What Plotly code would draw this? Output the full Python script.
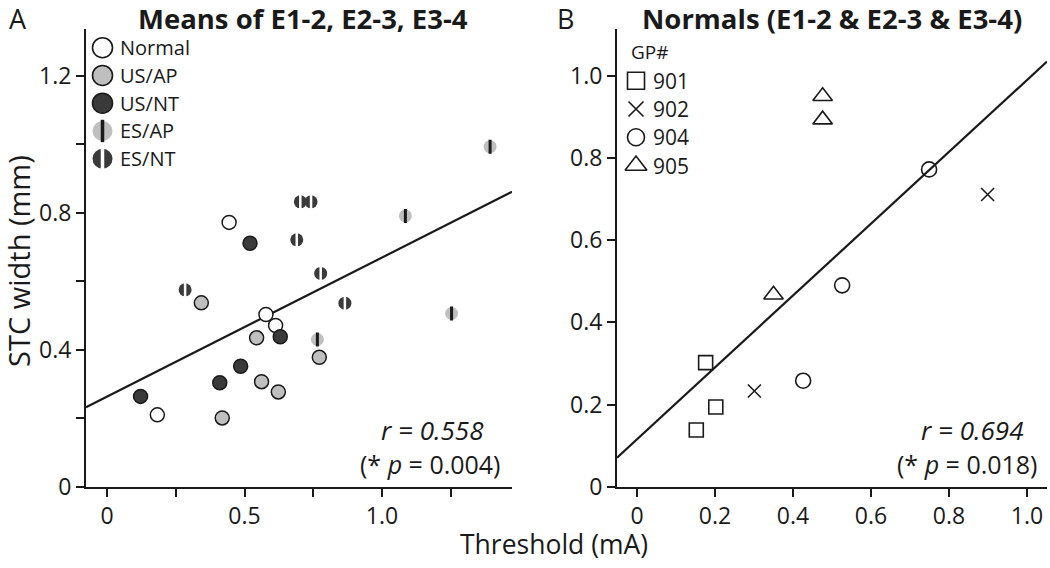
import numpy as np
import plotly.graph_objects as go

# ---------------- data: panel A (means) ----------------
normal_x = [0.444, 0.578, 0.613, 0.183]
normal_y = [0.772, 0.503, 0.471, 0.210]
usap_x = [0.343, 0.544, 0.772, 0.562, 0.623, 0.419]
usap_y = [0.537, 0.435, 0.378, 0.307, 0.277, 0.201]
usnt_x = [0.520, 0.630, 0.486, 0.410, 0.122]
usnt_y = [0.711, 0.438, 0.352, 0.304, 0.264]
esap_x = [1.085, 0.765, 1.253, 1.393]
esap_y = [0.791, 0.430, 0.506, 0.993]
esnt_x = [0.703, 0.742, 0.690, 0.777, 0.865, 0.284]
esnt_y = [0.832, 0.832, 0.721, 0.623, 0.536, 0.575]

# ---------------- data: panel B (normals) ----------------
gp901_x = [0.176, 0.202, 0.152]
gp901_y = [0.302, 0.194, 0.138]
gp902_x = [0.899, 0.301]
gp902_y = [0.711, 0.233]
gp904_x = [0.749, 0.526, 0.426]
gp904_y = [0.772, 0.490, 0.258]
gp905_x = [0.476, 0.476, 0.350]
gp905_y = [0.950, 0.893, 0.467]

legend_a = ["Normal", "US/AP", "US/NT", "ES/AP", "ES/NT"]
legend_b = ["901", "902", "904", "905"]

FONT = "Open Sans"
INK = "#1a1a1a"
LIGHT = "#bfbfbf"
DARK = "#3a3a3a"

W, H = 1050, 568

xa_range = [-0.0764, 1.4727]
ya_range = [0, 1.336]
xb_range = [-0.0513, 1.0513]
yb_range = [0, 1.113]

fig = go.Figure()


def circ(x, y, fill, xa, ya, size=14, lw=1.5, lc=INK):
    fig.add_trace(go.Scatter(x=x, y=y, mode="markers", xaxis=xa, yaxis=ya,
                             marker=dict(symbol="circle", size=size, color=fill,
                                         line=dict(color=lc, width=lw)),
                             showlegend=False, hoverinfo="skip"))


def stripe(x, y, col, xa, ya, size=12, lw=3):
    fig.add_trace(go.Scatter(x=x, y=y, mode="markers", xaxis=xa, yaxis=ya,
                             marker=dict(symbol="line-ns", size=size, color=col,
                                         line=dict(color=col, width=lw)),
                             showlegend=False, hoverinfo="skip"))


# regression lines (least squares through the data)
all_ax = np.array(normal_x + usap_x + usnt_x + esap_x + esnt_x)
all_ay = np.array(normal_y + usap_y + usnt_y + esap_y + esnt_y)
sa, ia = np.polyfit(all_ax, all_ay, 1)
lx = np.array(xa_range)
fig.add_trace(go.Scatter(x=lx, y=ia + sa * lx, mode="lines", xaxis="x", yaxis="y",
                         line=dict(color=INK, width=2.2), showlegend=False, hoverinfo="skip"))

all_bx = np.array(gp901_x + gp902_x + gp904_x + gp905_x)
all_by = np.array(gp901_y + gp902_y + gp904_y + gp905_y)
sb, ib = np.polyfit(all_bx, all_by, 1)
lbx = np.array(xb_range)
fig.add_trace(go.Scatter(x=lbx, y=ib + sb * lbx, mode="lines", xaxis="x2", yaxis="y2",
                         line=dict(color=INK, width=2.2), showlegend=False, hoverinfo="skip"))

# panel A markers
circ(normal_x, normal_y, "white", "x", "y")
circ(usap_x, usap_y, LIGHT, "x", "y")
circ(usnt_x, usnt_y, DARK, "x", "y")
circ(esap_x, esap_y, LIGHT, "x", "y", size=13, lw=0)
stripe(esap_x, esap_y, INK, "x", "y", size=10, lw=3)
circ(esnt_x, esnt_y, DARK, "x", "y", size=13, lw=0)
stripe(esnt_x, esnt_y, "white", "x", "y", size=13, lw=2.5)


# panel B markers
def openm(x, y, sym, size, xa="x2", ya="y2", lw=1.6):
    fig.add_trace(go.Scatter(x=x, y=y, mode="markers", xaxis=xa, yaxis=ya,
                             marker=dict(symbol=sym, size=size, color=INK,
                                         line=dict(color=INK, width=lw)),
                             showlegend=False, hoverinfo="skip"))


openm(gp901_x, gp901_y, "square-open", 14)
openm(gp902_x, gp902_y, "x-thin-open", 13)
openm(gp904_x, gp904_y, "circle-open", 15)
openm(gp905_x, gp905_y, "triangle-up-open", 17)

# ---------------- manual legends on a pixel canvas axis ----------------
la_y = [49 + i * 28.5 for i in range(len(legend_a))]
la_x = [102.5] * len(legend_a)
fills = ["white", LIGHT, DARK, LIGHT, DARK]
lws = [1.6, 1.6, 1.6, 0, 0]
for i in range(len(legend_a)):
    circ([la_x[i]], [la_y[i]], fills[i], "x3", "y3", size=20, lw=lws[i])
stripe([la_x[3]], [la_y[3]], INK, "x3", "y3", size=16, lw=3.5)
stripe([la_x[4]], [la_y[4]], "white", "x3", "y3", size=20, lw=3.5)

lb_y = [83 + i * 29 for i in range(len(legend_b))]
lb_x = 636
lb_sym = ["square-open", "x-thin-open", "circle-open", "triangle-up-open"]
lb_size = [17, 15, 17, 19]
for i in range(len(legend_b)):
    openm([lb_x], [lb_y[i]], lb_sym[i], lb_size[i], xa="x3", ya="y3")


def txt(x, y, text, size, **kw):
    d = dict(x=x, y=y, xref="x3", yref="y3", text=text, showarrow=False,
             font=dict(size=size, color=INK, family=FONT))
    d.update(kw)
    return d


ann = []
for i, lab in enumerate(legend_a):
    ann.append(txt(118, la_y[i], lab, 20, xanchor="left", yanchor="middle"))
ann.append(txt(650, 53, "GP#", 19))
for i, lab in enumerate(legend_b):
    ann.append(txt(651, lb_y[i], lab, 21, xanchor="left", yanchor="middle"))

ann += [
    txt(18, 19, "A", 27),
    txt(565, 19, "B", 27),
    txt(303, 19, "<b>Means of E1-2, E2-3, E3-4</b>", 27.5),
    txt(832, 19, "<b>Normals (E1-2 &amp; E2-3 &amp; E3-4)</b>", 27.5),
    txt(486, 442, "<i>r = 0.558</i>", 26, xanchor="right"),
    txt(503, 477, "(* <i>p</i> = 0.004)", 25, xanchor="right"),
    txt(1025, 442, "<i>r = 0.694</i>", 26, xanchor="right"),
    txt(1040, 477, "(* <i>p</i> = 0.018)", 25, xanchor="right"),
    txt(554, 559, "Threshold (mA)", 26.5),
    txt(19, 268, "STC width (mm)", 29, textangle=-90),
]


def xdom(a, b):
    return [a / W, b / W]


ydom = [(H - 500) / H, (H - 30) / H]
axcommon = dict(showline=True, linecolor=INK, linewidth=2, ticks="outside", ticklen=8,
                tickwidth=2, tickcolor=INK, showgrid=False, zeroline=False,
                tickfont=dict(size=23, color=INK, family=FONT), fixedrange=True)
minor_common = dict(ticks="outside", ticklen=8, tickwidth=2, tickcolor=INK)

fig.update_layout(
    width=W, height=H, margin=dict(l=0, r=0, t=0, b=0),
    plot_bgcolor="rgba(0,0,0,0)", paper_bgcolor="white",
    font=dict(family=FONT, color=INK),
    xaxis=dict(domain=xdom(86, 512), range=xa_range, anchor="y",
               tickvals=[0, 0.5, 1.0], ticktext=["0", "0.5", "1.0"],
               minor=dict(tickvals=[0.25, 0.75, 1.25], **minor_common), **axcommon),
    yaxis=dict(domain=ydom, range=ya_range, anchor="x",
               tickvals=[0, 0.4, 0.8, 1.2], ticktext=["0", "0.4", "0.8", "1.2"],
               minor=dict(tickvals=[0.2, 0.6, 1.0], **minor_common), **axcommon),
    xaxis2=dict(domain=xdom(617, 1047), range=xb_range, anchor="y2",
                tickvals=[0, 0.2, 0.4, 0.6, 0.8, 1.0], ticktext=["0", "0.2", "0.4", "0.6", "0.8", "1.0"],
                **axcommon),
    yaxis2=dict(domain=ydom, range=yb_range, anchor="x2",
                tickvals=[0, 0.2, 0.4, 0.6, 0.8, 1.0], ticktext=["0", "0.2", "0.4", "0.6", "0.8", "1.0"],
                **axcommon),
    xaxis3=dict(domain=[0, 1], range=[0, W], visible=False, anchor="y3", fixedrange=True),
    yaxis3=dict(domain=[0, 1], range=[H, 0], visible=False, anchor="x3", fixedrange=True),
    annotations=ann,
)

fig.write_html("out.html", config={"displayModeBar": False},
               post_script="document.body.style.margin='0';document.body.style.overflow='hidden';")
